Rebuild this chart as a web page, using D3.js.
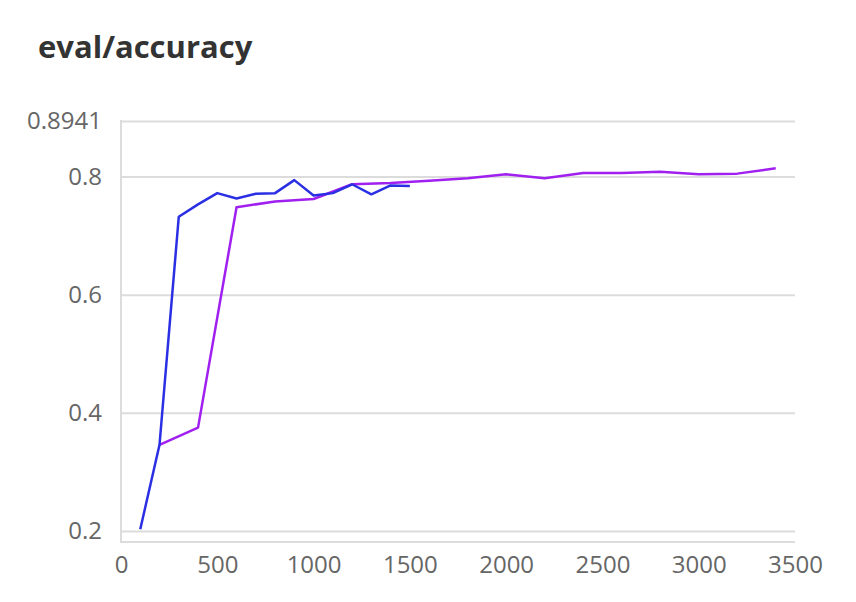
<!DOCTYPE html>
<html>
<head>
<meta charset="utf-8">
<script src="https://cdn.jsdelivr.net/npm/d3@7"></script>
<style>
  body { margin: 0; background: #fff; }
  svg { display: block; }
</style>
</head>
<body>
<svg id="chart"></svg>
<script>
// Data: eval/accuracy for two runs
const stepsA = [100, 200, 300, 400, 500, 600, 700, 800, 900, 1000, 1100, 1200, 1300, 1400, 1500];
const accA = [0.203, 0.346, 0.732, 0.753, 0.772, 0.763, 0.771, 0.772, 0.794, 0.768, 0.772, 0.787, 0.770, 0.785, 0.784];

const stepsB = [200, 400, 600, 800, 1000, 1200, 1400, 1600, 1800, 2000, 2200, 2400, 2600, 2800, 3000, 3200, 3400];
const accB = [0.346, 0.375, 0.748, 0.758, 0.762, 0.787, 0.789, 0.793, 0.797, 0.804, 0.797, 0.806, 0.806, 0.808, 0.804, 0.805, 0.814];

const yTicks = [0.2, 0.4, 0.6, 0.8, 0.8941];
const xTicks = [0, 500, 1000, 1500, 2000, 2500, 3000, 3500];

// Chart dimensions
const Width = 856;
const Height = 602;
const Left = 121, Right = 795, Top = 121, Bottom = 542;

const svg = d3.select("#chart")
  .attr("width", Width)
  .attr("height", Height)
  .style("font-family", "'Open Sans', 'Noto Sans', sans-serif");

// Title
svg.append("text")
  .attr("x", 38)
  .attr("y", 58)
  .attr("font-size", 31)
  .attr("font-weight", "bold")
  .attr("fill", "#333")
  .text("eval/accuracy");

// Scales
const xScale = d3.scaleLinear().domain([0, 3500]).range([Left, Right]);
const yScale = d3.scaleLinear().domain([0.1814, 0.8941]).range([Bottom, Top]);

// Gridlines + y labels
const yAxis = d3.axisLeft(yScale)
  .tickValues(yTicks)
  .tickSize(-(Right - Left))
  .tickPadding(19)
  .tickFormat(d => d === 0.8941 ? "0.8941" : d3.format(".1f")(d));

const gy = svg.append("g")
  .attr("transform", `translate(${Left},0)`)
  .call(yAxis);
gy.select(".domain").remove();
gy.selectAll(".tick line").attr("stroke", "#dcdcdc").attr("stroke-width", 2);
gy.selectAll(".tick text")
  .attr("font-size", 24)
  .attr("fill", "#666")
  .style("font-family", "'Open Sans', sans-serif");

// Axis lines
svg.append("line")
  .attr("x1", Left).attr("x2", Left)
  .attr("y1", Top - 1).attr("y2", Bottom + 1)
  .attr("stroke", "#dcdcdc").attr("stroke-width", 2);
svg.append("line")
  .attr("x1", Left).attr("x2", Right)
  .attr("y1", Bottom).attr("y2", Bottom)
  .attr("stroke", "#dcdcdc").attr("stroke-width", 2);

// x labels
const xAxis = d3.axisBottom(xScale)
  .tickValues(xTicks)
  .tickSize(0)
  .tickPadding(14)
  .tickFormat(d3.format("d"));

const gx = svg.append("g")
  .attr("transform", `translate(0,${Bottom})`)
  .call(xAxis);
gx.select(".domain").remove();
gx.selectAll(".tick text")
  .attr("font-size", 24)
  .attr("fill", "#666")
  .style("font-family", "'Open Sans', sans-serif");

// Lines
const line = d3.line()
  .x(d => xScale(d[0]))
  .y(d => yScale(d[1]));

svg.append("path")
  .datum(d3.zip(stepsB, accB))
  .attr("fill", "none")
  .attr("stroke", "#a020f0")
  .attr("stroke-width", 2.5)
  .attr("stroke-linejoin", "round")
  .attr("d", line);

svg.append("path")
  .datum(d3.zip(stepsA, accA))
  .attr("fill", "none")
  .attr("stroke", "#2b2fe3")
  .attr("stroke-width", 2.5)
  .attr("stroke-linejoin", "round")
  .attr("d", line);
</script>
</body>
</html>
